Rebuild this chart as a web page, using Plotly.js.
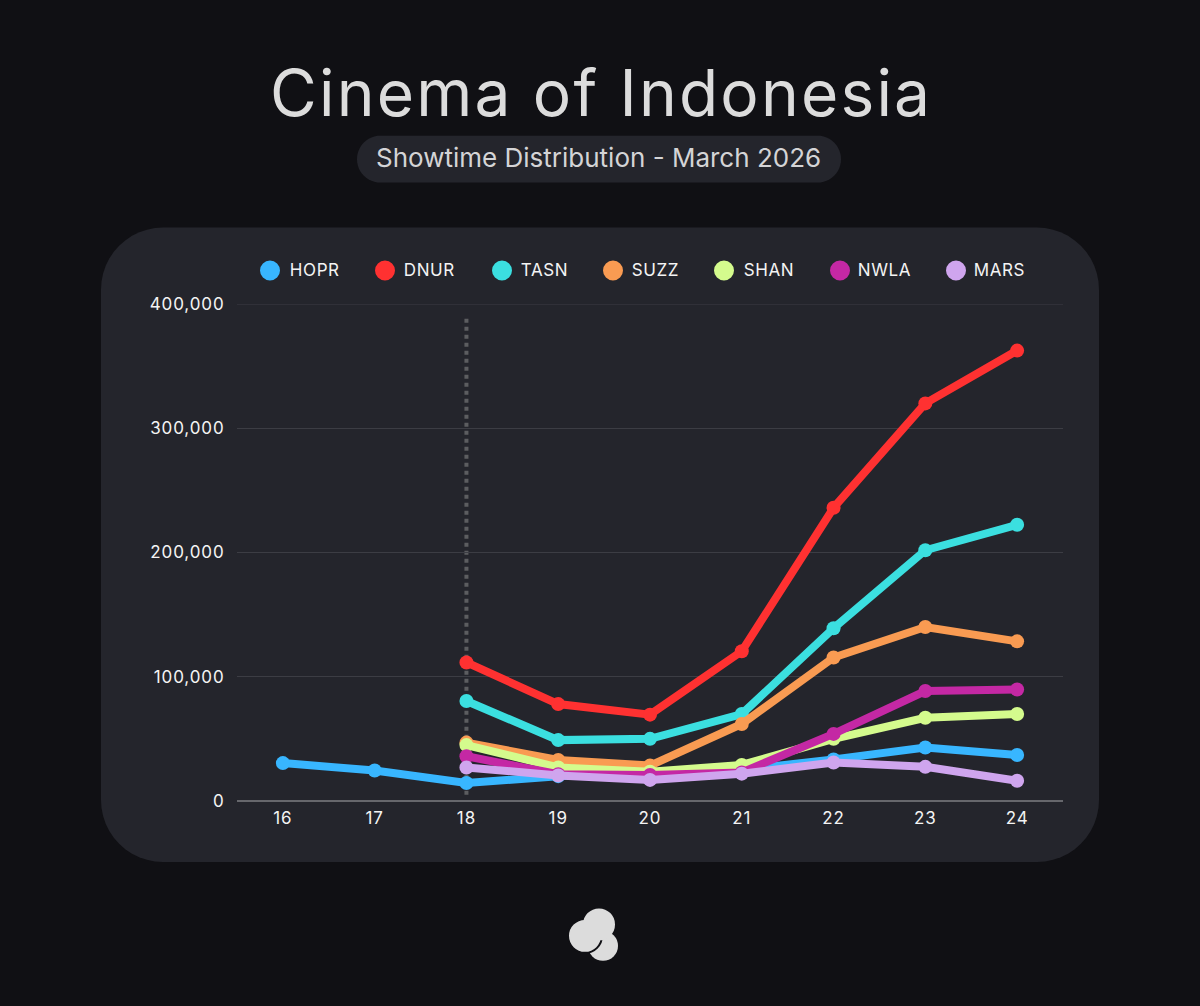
<!DOCTYPE html>
<html><head><meta charset="utf-8">
<script src="https://cdn.plot.ly/plotly-3.0.1.min.js"></script>
<style>html,body{margin:0;padding:0;background:#101014;overflow:hidden}#c{width:1200px;height:1006px}
#c .annotation text{letter-spacing:.6px}
#c .annotation[data-index="0"] text{letter-spacing:2.2px}
#c .annotation[data-index="1"] text{letter-spacing:0}
#c .xtick text,#c .ytick text{letter-spacing:.9px}
</style>
</head><body><div id="c"></div>
<script>
const days = [16,17,18,19,20,21,22,23,24];
const HOPR = [30500,24500,14500,20000,23000,25000,33500,43000,37000];
const DNUR = [null,null,111500,78000,69500,120500,236000,320000,362500];
const TASN = [null,null,80500,49000,50000,70000,139000,201800,222300];
const SUZZ = [null,null,47000,33000,28500,62000,115500,140000,128500];
const SHAN = [null,null,45000,27000,23500,29000,50000,67000,70000];
const NWLA = [null,null,36000,21500,21000,23000,54000,88500,89700];
const MARS = [null,null,27000,20500,17000,22000,31000,27500,16300];
const names = ['HOPR','DNUR','TASN','SUZZ','SHAN','NWLA','MARS'];
const seriesValues = [HOPR,DNUR,TASN,SUZZ,SHAN,NWLA,MARS];
const colors = ['#38b6ff','#ff3131','#3bdfe0','#f99b52','#d4fb8d','#c428a4','#cfa5ee'];
const legendDotX = [270,385,502,613,724,840,956];
const legendTextX = [289,403,520,631,743,857,973];
const yTicks = [0,100000,200000,300000,400000];
const titleText = 'Cinema of Indonesia';
const subtitleText = 'Showtime Distribution - March 2026';

const W=1200,H=1006,L=237,R=1063,T=303.5,B=801;
const px=x=>(x-L)/(R-L), py=y=>(B-y)/(B-T);
const TEXT='"Inter","Liberation Sans",sans-serif';
function rr(x0,y0,x1,y1,r){
  const X=px,Y=py;
  const pts=[];
  const corner=(cx,cy,a0)=>{for(let i=0;i<=12;i++){const a=a0+i/12*Math.PI/2;pts.push(X(cx+r*Math.cos(a))+','+Y(cy+r*Math.sin(a)));}};
  corner(x0+r,y0+r,Math.PI);corner(x1-r,y0+r,1.5*Math.PI);corner(x1-r,y1-r,0);corner(x0+r,y1-r,.5*Math.PI);
  return 'M'+pts.join(' L')+' Z';
}
const circ=(cx,cy,r,fill,line,lw)=>({type:'circle',xref:'paper',yref:'paper',layer:'below',x0:px(cx-r),x1:px(cx+r),y0:py(cy+r),y1:py(cy-r),fillcolor:fill,line:{color:line||fill,width:lw||0}});

const shapes=[
 {type:'path',xref:'paper',yref:'paper',layer:'below',path:rr(101,227,1099,862,62),fillcolor:'#24252c',line:{width:0}},
 {type:'path',xref:'paper',yref:'paper',layer:'below',path:rr(357,135,841,182,23.5),fillcolor:'#24252c',line:{width:0}},
 circ(603,946,15,'#dcdcdc'),
 circ(585,936,17,'#dcdcdc','#101014',2),
 circ(599,924.5,16,'#dcdcdc'),
 {type:'line',xref:'paper',yref:'y',layer:'below',x0:0,x1:1,y0:400000,y1:400000,line:{color:'#3c3d44',width:1}},
 {type:'line',xref:'x',yref:'y',layer:'below',x0:18,x1:18,y0:5000,y1:391000,line:{color:'#5c5d60',width:4,dash:'dot'}}
];
legendDotX.forEach((x,i)=>shapes.push(Object.assign(circ(x,270,10,colors[i]),{layer:'above'})));

const annotations=[
 {text:titleText,xref:'paper',yref:'paper',x:px(601),y:py(92),xanchor:'center',yanchor:'middle',showarrow:false,font:{family:TEXT,size:64,color:'#dcdcdc'}},
 {text:subtitleText,xref:'paper',yref:'paper',x:px(598),y:py(157),xanchor:'center',yanchor:'middle',showarrow:false,font:{family:TEXT,size:26,color:'#d4d4d6'}}
];
names.forEach((n,i)=>annotations.push({text:n,xref:'paper',yref:'paper',x:px(legendTextX[i]),y:py(269),xanchor:'left',yanchor:'middle',showarrow:false,font:{family:TEXT,size:17,color:'#f4f4f4'}}));

const traces=names.map((n,i)=>({x:days,y:seriesValues[i],name:n,type:'scatter',mode:'lines+markers',
  line:{color:colors[i],width:8},marker:{color:colors[i],size:14},cliponaxis:false,connectgaps:false}));

Plotly.newPlot('c',traces,{
 width:W,height:H,paper_bgcolor:'#101014',plot_bgcolor:'rgba(0,0,0,0)',showlegend:false,
 margin:{l:L,r:W-R,t:T,b:H-B,pad:0},
 xaxis:{range:[15.5,24.5],tickmode:'array',tickvals:days,ticktext:days.map(String),showgrid:false,zeroline:false,showline:false,
   ticks:'outside',ticklen:2,tickcolor:'rgba(0,0,0,0)',tickfont:{family:TEXT,size:17,color:'#f4f4f4'}},
 yaxis:{range:[0,400000],tickmode:'array',tickvals:yTicks,ticktext:yTicks.map(v=>v.toLocaleString('en-US')),showgrid:true,gridcolor:'#3c3d44',gridwidth:1,
   zeroline:true,zerolinecolor:'#66676c',zerolinewidth:2,showline:false,ticks:'outside',ticklen:8,tickcolor:'rgba(0,0,0,0)',
   tickfont:{family:TEXT,size:17,color:'#f4f4f4'}},
 shapes,annotations,hovermode:false
},{displayModeBar:false,staticPlot:true});
</script></body></html>
